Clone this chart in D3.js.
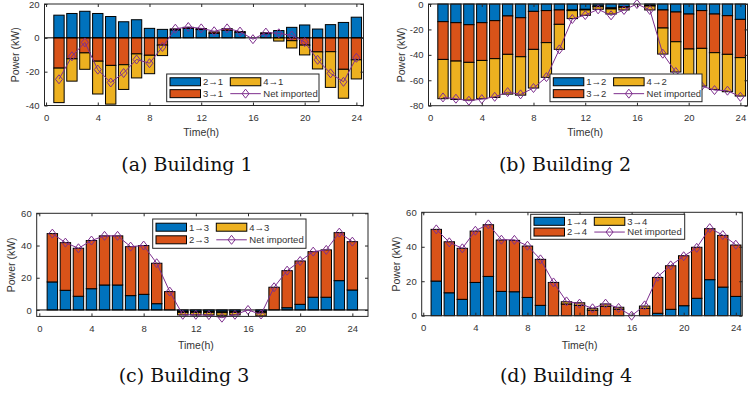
<!DOCTYPE html>
<html>
<head>
<meta charset="utf-8">
<script src="https://cdn.jsdelivr.net/npm/d3@7"></script>
<style>
  body { margin: 0; background: #fff; }
  svg { display: block; }
  text { font-family: "Liberation Sans", Arial, sans-serif; fill: #333; }
  .caption { font-family: "DejaVu Serif", serif; font-size: 19px; fill: #111; }
</style>
</head>
<body>
<div id="chart"></div>
<script>
const hours = d3.range(1, 25);
const xTicks = [0, 4, 8, 12, 16, 20, 24];

// Building 1 (kW)
const b1From2 = [13.4, 14.4, 15.7, 14.4, 12.6, 9.5, 10.7, 5.6, 5.0, 4.7, 5.6, 4.9, 2.7, 4.5, 3.3, 0, 2.5, 4.3, 6.2, 7.6, 5.2, 7.8, 9.1, 12.2];
const b1From3 = [-17.9, -12.4, -8.9, -13.8, -16.3, -15.9, -9.5, -10.3, -4.3, 0.6, 0.6, 0.6, 0.8, 0.9, 0.4, 0, 0.5, 0, -1.7, -4.3, -8.3, -8.2, -18.6, -13.0];
const b1From4 = [-20.4, -13.2, -9.7, -19.4, -22.9, -14.6, -14.2, -10.9, -6.2, 0, 0, 0, 0, 0, 0, 0, 0, -1.9, -4.3, -5.8, -10.1, -21.1, -17.1, -11.3];
const b1Net = [-24.5, -10.9, -2.7, -18.8, -26.4, -20.8, -12.8, -15.0, -5.4, 5.4, 6.4, 5.6, 3.9, 5.6, 3.7, -0.8, 3.1, 2.7, 1.4, -2.5, -13.0, -21.0, -26.0, -11.8];

// Building 2
const b2From1 = [-13.9, -14.7, -16.3, -14.7, -13.1, -9.4, -10.8, -5.8, -5.2, -4.7, -4.7, -4.2, -1.6, -3.1, -2.1, 0, -1.0, -4.7, -6.3, -7.9, -5.2, -7.9, -9.2, -12.1];
const b2From3 = [-29.7, -30.2, -29.6, -29.7, -29.9, -30.2, -30.7, -29.9, -25.2, -11.3, -0.5, -0.5, -0.5, -0.8, -0.5, 0, -0.6, -14.2, -23.4, -27.5, -29.7, -30.4, -30.4, -30.1];
const b2From4 = [-30.9, -30.2, -29.7, -30.1, -30.5, -31.3, -30.2, -30.4, -27.3, -19.7, -6.3, -4.2, -2.1, -4.0, -2.1, 0, -3.1, -20.5, -23.8, -27.1, -29.7, -28.9, -29.4, -30.2];
const b2Net = [-73.5, -74.5, -76.1, -74.8, -73.0, -69.3, -71.1, -66.1, -57.5, -35.7, -11.8, -8.7, -4.2, -8.9, -4.7, 0, -4.7, -39.1, -53.5, -62.5, -64.6, -67.7, -68.2, -73.0];

// Building 3
const b3From1 = [17.4, 12.2, 8.5, 13.2, 15.5, 15.5, 8.9, 9.7, 3.9, 0, -1.0, -1.0, -1.0, -1.2, -1.0, 0, -1.0, 0, 1.4, 3.5, 7.9, 7.9, 18.2, 12.4];
const b3From2 = [30.0, 29.6, 29.8, 29.9, 30.5, 30.5, 30.4, 30.3, 25.1, 11.4, -0.5, -0.5, -0.5, -0.5, -0.5, 0, -0.7, 14.1, 23.0, 26.9, 28.3, 29.4, 29.8, 30.0];
const b3From4 = [0, 0, 0, 0, 0, 0, 0, 0, 0, 0, -1.6, -1.6, -1.6, -1.6, -1.6, 0, -2.0, 0, 0, 0, 0, 0, 0, 0];
const b3Net = [47.4, 41.8, 38.3, 43.1, 46.0, 46.0, 39.3, 40.0, 29.0, 11.4, -3.0, -3.0, -3.2, -4.8, -3.0, 0, -2.8, 14.1, 24.4, 30.4, 36.2, 37.3, 48.0, 42.4];

// Building 4
const b4From1 = [20.1, 13.3, 9.5, 19.3, 22.8, 14.1, 13.9, 10.6, 6.0, 0, 0, 0, 0, 0, 0, 0, 0, 1.4, 3.7, 5.8, 10.1, 20.9, 16.6, 11.2];
const b4From2 = [30.0, 29.6, 29.6, 29.8, 30.0, 29.8, 29.8, 29.8, 26.7, 19.3, 6.8, 6.0, 3.2, 5.5, 3.8, 0, 4.3, 20.8, 25.3, 29.0, 29.6, 29.6, 30.0, 29.8];
const b4From3 = [0, 0, 0, 0, 0, 0, 0, 0, 0, 0, 1.3, 1.5, 1.1, 1.3, 1.1, 0, 1.3, 0, 0, 0, 0, 0, 0, 0];
const b4Net = [50.1, 42.6, 39.1, 49.3, 53.0, 44.1, 44.0, 40.6, 32.7, 19.3, 8.3, 7.0, 4.3, 7.0, 4.5, 0, 6.0, 22.6, 29.2, 34.5, 39.4, 50.8, 46.8, 41.2];

const panels = [
  {
    caption: '(a) Building 1', captionX: 187, captionY: 171,
    names: ['2\u21921', '3\u21921', '4\u21921'],
    series: [b1From2, b1From3, b1From4], net: b1Net,
    xDomain: [-0.12, 24.55], yDomain: [-40, 20], yTicks: [-40, -20, 0, 20], zeroLine: true,
    box: { left: 44.5, right: 363.5, top: 4, bottom: 105.5 },
    yLabelX: 15, xLabelY: 135.5,
    legend: { x: 166.7, y: 74, w: 152.3, h: 27.7 }
  },
  {
    caption: '(b) Building 2', captionX: 565, captionY: 171,
    names: ['1\u21922', '3\u21922', '4\u21922'],
    series: [b2From1, b2From3, b2From4], net: b2Net,
    xDomain: [-0.12, 24.55], yDomain: [-80, 0], yTicks: [-80, -60, -40, -20, 0], zeroLine: false,
    box: { left: 428.5, right: 747.5, top: 4, bottom: 105.7 },
    yLabelX: 401, xLabelY: 135.5,
    legend: { x: 550, y: 74, w: 152, h: 27.7 }
  },
  {
    caption: '(c) Building 3', captionX: 184, captionY: 382,
    names: ['1\u21923', '2\u21923', '4\u21923'],
    series: [b3From1, b3From2, b3From4], net: b3Net,
    xDomain: [-0.2, 25.2], yDomain: [-4, 60], yTicks: [0, 20, 40, 60], zeroLine: true,
    box: { left: 36.7, right: 368, top: 213.3, bottom: 316.4 },
    yLabelX: 11, xLabelY: 349,
    legend: { x: 152.7, y: 219, w: 153.3, h: 29.3 }
  },
  {
    caption: '(d) Building 4', captionX: 566, captionY: 382,
    names: ['1\u21924', '2\u21924', '3\u21924'],
    series: [b4From1, b4From2, b4From3], net: b4Net,
    xDomain: [-0.12, 24.5], yDomain: [0, 60], yTicks: [0, 20, 40, 60], zeroLine: false,
    box: { left: 421.7, right: 742.3, top: 212.3, bottom: 315.7 },
    yLabelX: 396, xLabelY: 349,
    legend: { x: 530.7, y: 214.3, w: 154, h: 25 }
  }
];

const viz = {
  width: 748,
  height: 393,
  colors: ['#0072BD', '#D95319', '#EDB120'],
  netColor: '#7E2F8E',
  axisColor: '#262626',
  barWidth: 0.8,
  tickLength: 3,
  fontSize: 9.5,
  labelSize: 10.5,
  diamond: 'M0,-4.5L3.5,0L0,4.5L-3.5,0Z',

  init() {
    this.svg = d3.select('#chart')
      .append('svg')
      .attr('width', this.width)
      .attr('height', this.height);

    for (const panel of panels) {
      this.drawPanel(panel);
    }
  },

  drawPanel(p) {
    const x = d3.scaleLinear().domain(p.xDomain).range([p.box.left, p.box.right]);
    const y = d3.scaleLinear().domain(p.yDomain).range([p.box.bottom, p.box.top]);
    const g = this.svg.append('g');

    this.drawBars(g, p, x, y);
    if (p.zeroLine) {
      g.append('line')
        .attr('x1', p.box.left).attr('x2', p.box.right)
        .attr('y1', y(0)).attr('y2', y(0))
        .attr('stroke', '#000').attr('stroke-width', 1);
    }
    this.drawNet(g, p, x, y);
    this.drawAxes(g, p, x, y);
    this.drawLegend(g, p);

    this.svg.append('text')
      .attr('class', 'caption')
      .attr('x', p.captionX)
      .attr('y', p.captionY)
      .attr('text-anchor', 'middle')
      .text(p.caption);
  },

  drawBars(g, p, x, y) {
    const rows = hours.map((hour, i) => ({
      hour,
      s0: p.series[0][i],
      s1: p.series[1][i],
      s2: p.series[2][i]
    }));
    const stack = d3.stack()
      .keys(['s0', 's1', 's2'])
      .offset(d3.stackOffsetDiverging);
    const layers = stack(rows);
    const half = (x(this.barWidth) - x(0)) / 2;

    layers.forEach((layer, k) => {
      g.append('g')
        .selectAll('rect')
        .data(layer.filter((d) => d[1] !== d[0]))
        .join('rect')
        .attr('x', (d) => x(d.data.hour) - half)
        .attr('width', half * 2)
        .attr('y', (d) => y(Math.max(d[0], d[1])))
        .attr('height', (d) => Math.abs(y(d[0]) - y(d[1])))
        .attr('fill', this.colors[k])
        .attr('stroke', '#000')
        .attr('stroke-width', 1);
    });
  },

  drawNet(g, p, x, y) {
    const line = d3.line()
      .x((d, i) => x(hours[i]))
      .y((d) => y(d));

    g.append('path')
      .datum(p.net)
      .attr('d', line)
      .attr('fill', 'none')
      .attr('stroke', this.netColor)
      .attr('stroke-width', 1);

    g.append('g')
      .selectAll('path')
      .data(p.net)
      .join('path')
      .attr('transform', (d, i) => `translate(${x(hours[i])},${y(d)})`)
      .attr('d', this.diamond)
      .attr('fill', 'none')
      .attr('stroke', this.netColor)
      .attr('stroke-width', 1);
  },

  drawAxes(g, p, x, y) {
    const fmt = (d) => String(d);
    const t = -this.tickLength;

    const bottom = g.append('g')
      .attr('transform', `translate(0,${p.box.bottom})`)
      .call(d3.axisBottom(x).tickValues(xTicks).tickFormat(fmt).tickSizeInner(t).tickSizeOuter(0).tickPadding(9));
    const top = g.append('g')
      .attr('transform', `translate(0,${p.box.top})`)
      .call(d3.axisTop(x).tickValues(xTicks).tickFormat('').tickSizeInner(t).tickSizeOuter(0));
    const left = g.append('g')
      .attr('transform', `translate(${p.box.left},0)`)
      .call(d3.axisLeft(y).tickValues(p.yTicks).tickFormat(fmt).tickSizeInner(t).tickSizeOuter(0).tickPadding(5));
    const right = g.append('g')
      .attr('transform', `translate(${p.box.right},0)`)
      .call(d3.axisRight(y).tickValues(p.yTicks).tickFormat('').tickSizeInner(t).tickSizeOuter(0));

    for (const axis of [bottom, top, left, right]) {
      axis.select('.domain').remove();
      axis.selectAll('line').attr('stroke', this.axisColor);
      axis.selectAll('text')
        .attr('fill', '#333')
        .style('font-size', `${this.fontSize}px`)
        .style('font-family', '"Liberation Sans", Arial, sans-serif');
    }

    g.append('rect')
      .attr('x', p.box.left)
      .attr('y', p.box.top)
      .attr('width', p.box.right - p.box.left)
      .attr('height', p.box.bottom - p.box.top)
      .attr('fill', 'none')
      .attr('stroke', this.axisColor)
      .attr('stroke-width', 1);

    g.append('text')
      .attr('x', (x(0) + x(24)) / 2)
      .attr('y', p.xLabelY)
      .attr('text-anchor', 'middle')
      .style('font-size', `${this.labelSize}px`)
      .text('Time(h)');

    const cy = (p.box.top + p.box.bottom) / 2;
    g.append('text')
      .attr('transform', `translate(${p.yLabelX},${cy}) rotate(-90)`)
      .attr('text-anchor', 'middle')
      .attr('dy', '0.35em')
      .style('font-size', `${this.labelSize}px`)
      .text('Power (kW)');
  },

  drawLegend(g, p) {
    const L = p.legend;
    const lg = g.append('g').attr('transform', `translate(${L.x},${L.y})`);
    const rowY = [L.h * 0.28, L.h * 0.71];
    const colX = [3.3, 63.6];
    const sw = 30.5;
    const sh = 8;

    lg.append('rect')
      .attr('width', L.w)
      .attr('height', L.h)
      .attr('fill', '#fff')
      .attr('stroke', this.axisColor)
      .attr('stroke-width', 1);

    // filled column by column: series 0 and 1 on the left, series 2 and the net line on the right
    const items = [
      { col: 0, row: 0, color: this.colors[0], label: p.names[0] },
      { col: 0, row: 1, color: this.colors[1], label: p.names[1] },
      { col: 1, row: 0, color: this.colors[2], label: p.names[2] }
    ];
    for (const it of items) {
      lg.append('rect')
        .attr('x', colX[it.col])
        .attr('y', rowY[it.row] - sh / 2)
        .attr('width', sw)
        .attr('height', sh)
        .attr('fill', it.color)
        .attr('stroke', '#000')
        .attr('stroke-width', 1);
      lg.append('text')
        .attr('x', colX[it.col] + sw + 2.5)
        .attr('y', rowY[it.row])
        .attr('dy', '0.35em')
        .style('font-size', `${this.fontSize}px`)
        .text(it.label);
    }

    lg.append('line')
      .attr('x1', colX[1]).attr('x2', colX[1] + sw)
      .attr('y1', rowY[1]).attr('y2', rowY[1])
      .attr('stroke', this.netColor)
      .attr('stroke-width', 1);
    lg.append('path')
      .attr('transform', `translate(${colX[1] + sw / 2},${rowY[1]})`)
      .attr('d', this.diamond)
      .attr('fill', 'none')
      .attr('stroke', this.netColor)
      .attr('stroke-width', 1);
    lg.append('text')
      .attr('x', colX[1] + sw + 2.5)
      .attr('y', rowY[1])
      .attr('dy', '0.35em')
      .style('font-size', `${this.fontSize}px`)
      .text('Net imported');
  }
};

viz.init();
</script>
</body>
</html>
